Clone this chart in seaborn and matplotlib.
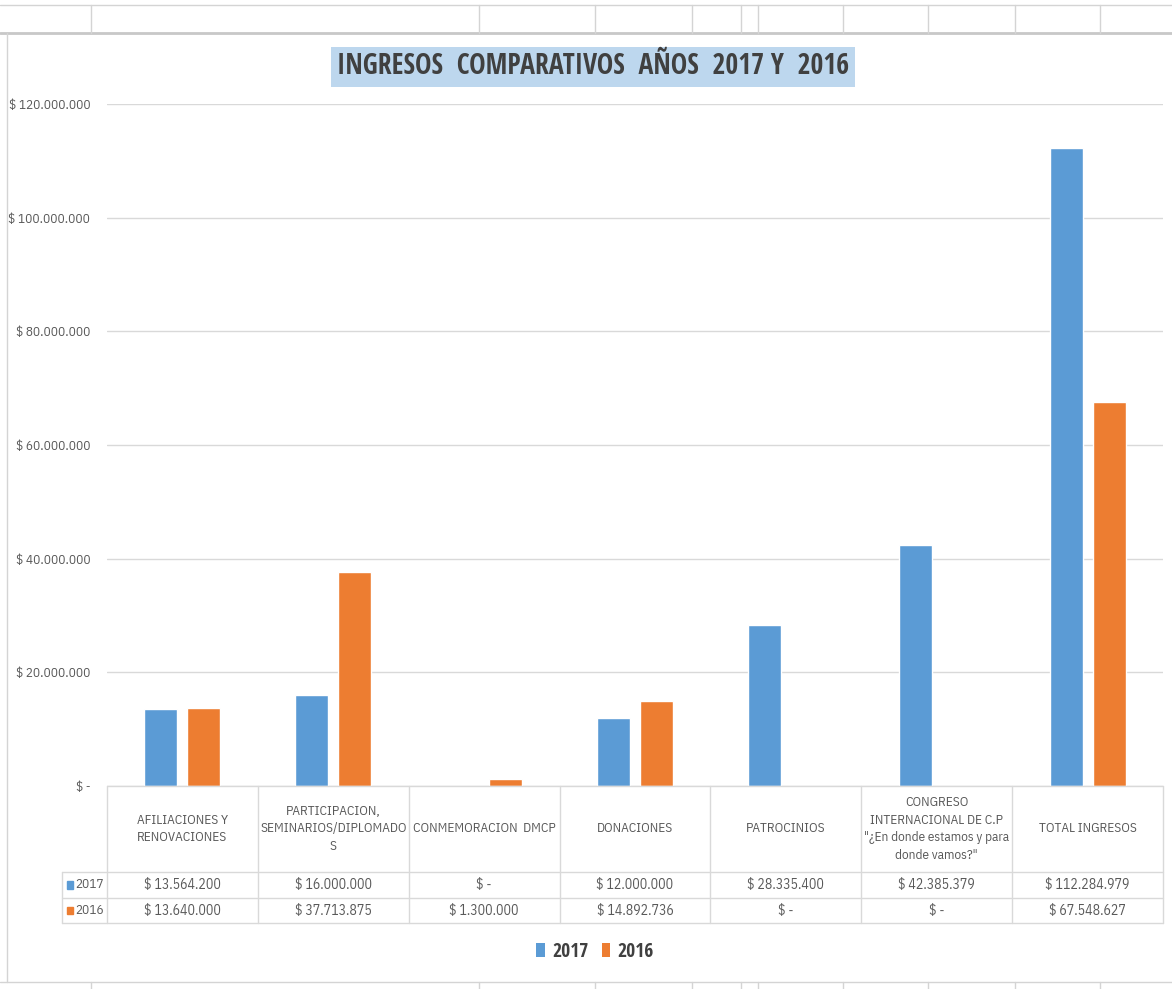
import matplotlib
matplotlib.use("Agg")
import matplotlib.pyplot as plt
import matplotlib.transforms as mtrans
from matplotlib.lines import Line2D
from matplotlib.patches import Rectangle, Patch
import seaborn as sns
import pandas as pd

# datos del gráfico
categorias = [
    "AFILIACIONES Y\nRENOVACIONES",
    "PARTICIPACION,\nSEMINARIOS/DIPLOMADO\nS",
    "CONMEMORACION  DMCP",
    "DONACIONES",
    "PATROCINIOS",
    "CONGRESO\nINTERNACIONAL DE C.P\n\"¿En donde estamos y para\ndonde vamos?\"",
    "TOTAL INGRESOS",
]
anios = ["2017", "2016"]
valores_2017 = [13564200, 16000000, 0, 12000000, 28335400, 42385379, 112284979]
valores_2016 = [13640000, 37713875, 1300000, 14892736, 0, 0, 67548627]
y_ticks = [0, 20000000, 40000000, 60000000, 80000000, 100000000, 120000000]

colores = {"2017": "#5B9BD5", "2016": "#ED7D31"}
gris_txt = "#595959"
gris_lin = "#D9D9D9"
fuente_titulo = ['Open Sans Condensed', 'IBM Plex Sans Condensed', 'DejaVu Sans']

sns.set_style("white")
plt.rcParams['font.family'] = ['IBM Plex Sans Condensed', 'DejaVu Sans']


def fmt_pesos(v):
    if v == 0:
        return "$ -"
    return "$ " + f"{v:,.0f}".replace(",", ".")


df = pd.DataFrame({
    "categoria": categorias * 2,
    "anio": ["2017"] * len(categorias) + ["2016"] * len(categorias),
    "valor": valores_2017 + valores_2016,
})

W, H = 1172, 989
fig = plt.figure(figsize=(W / 100, H / 100), dpi=100)
ax = fig.add_axes([107 / W, 1 - 786 / H, (1163 - 107) / W, (786 - 104) / H])

sns.barplot(data=df, x="categoria", y="valor", hue="anio", hue_order=anios,
            order=categorias, palette=colores, width=0.57, gap=0.23,
            ax=ax, legend=False, saturation=1)

ax.set_xlim(-0.5, len(categorias) - 0.5)
ax.set_ylim(0, 120000000)
ax.set_yticks(y_ticks)
ax.set_yticklabels([fmt_pesos(t) for t in y_ticks], color=gris_txt, fontsize=9.5)
ax.set_xticks([])
ax.set_xlabel("")
ax.set_ylabel("")
ax.tick_params(axis="y", length=0, pad=12)
ax.grid(axis="y", color=gris_lin, linewidth=1)
ax.set_axisbelow(True)
for s in ax.spines.values():
    s.set_visible(False)

# tabla de datos bajo el gráfico
tr = mtrans.blended_transform_factory(ax.transData, fig.transFigure)
fy = lambda p: 1 - p / H
x_izq = -0.5 - 45 / 151
n = len(categorias)

def linea(xs, ys, **kw):
    fig.add_artist(Line2D(xs, ys, transform=tr, color=gris_lin, lw=1, **kw))

linea([-0.5, n - 0.5], [fy(786), fy(786)])
for yy in (872, 898, 923):
    linea([x_izq, n - 0.5], [fy(yy), fy(yy)])
for i in range(n + 1):
    linea([i - 0.5, i - 0.5], [fy(786), fy(923)])
linea([x_izq, x_izq], [fy(872), fy(923)])

for i, cat in enumerate(categorias):
    fig.text(i, fy(829), cat, transform=tr, ha="center", va="center",
             fontsize=9.5, color=gris_txt, linespacing=1.45)
    fig.text(i, fy(885), fmt_pesos(valores_2017[i]), transform=tr,
             ha="center", va="center", fontsize=10, color=gris_txt)
    fig.text(i, fy(910.5), fmt_pesos(valores_2016[i]), transform=tr,
             ha="center", va="center", fontsize=10, color=gris_txt)

for anio, yy in zip(anios, (885, 910.5)):
    fig.add_artist(Rectangle((x_izq + 0.03, fy(yy) - 0.004), 0.045, 0.008,
                             transform=tr, color=colores[anio]))
    fig.text(x_izq + 0.09, fy(yy), anio, transform=tr, ha="left", va="center",
             fontsize=9.5, color=gris_txt)

# título
fig.text(593 / W, fy(67), "INGRESOS  COMPARATIVOS  AÑOS  2017 Y  2016",
         ha="center", va="center", fontsize=20, fontweight="bold", color="#404040",
         family=fuente_titulo,
         bbox=dict(boxstyle="square,pad=0.2", facecolor="#BDD7EE", edgecolor="none"))

# leyenda
handles = [Patch(facecolor=colores[a], edgecolor="none", label=a) for a in anios]
leg = fig.legend(handles=handles, loc="center", bbox_to_anchor=(595 / W, fy(952)),
                 ncol=2, frameon=False, handlelength=0.45, handleheight=0.75,
                 handletextpad=0.35, columnspacing=0.7,
                 prop={"size": 14, "weight": "bold", "family": fuente_titulo})
for t in leg.get_texts():
    t.set_color("#404040")

# cuadrícula de la hoja de cálculo
def flinea(xs, ys, c="#D4D4D4", lw=1):
    fig.add_artist(Line2D([x / W for x in xs], [fy(y) for y in ys],
                          transform=fig.transFigure, color=c, lw=lw))

flinea([0, W], [5, 5])
flinea([0, W], [33, 33], c="#C8C8C8", lw=2)
for xv in (91, 479, 595, 692, 741, 758, 843, 928, 1015, 1100):
    flinea([xv, xv], [5, 33])
flinea([7, 7], [33, 982])
flinea([0, W], [982, 982])
for xv in (91, 479, 595, 692, 741, 758, 843, 928, 1015, 1100):
    flinea([xv, xv], [982, H])

fig.savefig("out.png", dpi=100)
